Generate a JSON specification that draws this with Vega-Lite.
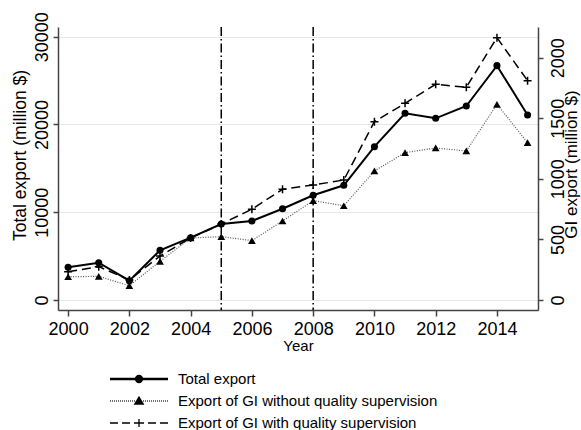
{
  "$schema": "https://vega.github.io/schema/vega-lite/v6.json",
  "width": 480,
  "height": 283,
  "autosize": {"type": "none"},
  "padding": {"left": 58, "top": 27, "right": 43, "bottom": 120},
  "background": "white",
  "config": {
    "view": {"stroke": null},
    "font": "Liberation Sans",
    "axis": {
      "domainColor": "#444444",
      "tickColor": "#444444",
      "domainWidth": 1.5,
      "tickWidth": 1.5,
      "labelColor": "black",
      "titleColor": "black",
      "titleFontWeight": "normal",
      "labelFlush": false,
      "labelFont": "Liberation Sans",
      "titleFont": "Liberation Sans"
    }
  },
  "datasets": {
    "exports": [
      {"Year": 2000, "Total": 3725, "GI_without": 192, "GI_with": 234},
      {"Year": 2001, "Total": 4250, "GI_without": 195, "GI_with": 275},
      {"Year": 2002, "Total": 2200, "GI_without": 118, "GI_with": 165},
      {"Year": 2003, "Total": 5660, "GI_without": 319, "GI_with": 363},
      {"Year": 2004, "Total": 7100, "GI_without": 512, "GI_with": 512},
      {"Year": 2005, "Total": 8660, "GI_without": 523, "GI_with": 627},
      {"Year": 2006, "Total": 9000, "GI_without": 490, "GI_with": 749},
      {"Year": 2007, "Total": 10400, "GI_without": 652, "GI_with": 914},
      {"Year": 2008, "Total": 11930, "GI_without": 820, "GI_with": 949},
      {"Year": 2009, "Total": 13070, "GI_without": 778, "GI_with": 990},
      {"Year": 2010, "Total": 17470, "GI_without": 1065, "GI_with": 1472},
      {"Year": 2011, "Total": 21270, "GI_without": 1216, "GI_with": 1623},
      {"Year": 2012, "Total": 20700, "GI_without": 1255, "GI_with": 1780},
      {"Year": 2013, "Total": 22100, "GI_without": 1230, "GI_with": 1756},
      {"Year": 2014, "Total": 26700, "GI_without": 1615, "GI_with": 2165},
      {"Year": 2015, "Total": 21070, "GI_without": 1298, "GI_with": 1810}
    ],
    "policy": [{"Year": 2005}, {"Year": 2008}],
    "series": [
      {"Series": "Total export"},
      {"Series": "Export of GI without quality supervision"},
      {"Series": "Export of GI with quality supervision"}
    ]
  },
  "layer": [
    {
      "data": {"name": "policy"},
      "mark": {"type": "rule", "color": "black", "strokeWidth": 1.5, "strokeDash": [9, 3, 1.5, 3]},
      "encoding": {
        "x": {
          "field": "Year",
          "type": "quantitative",
          "scale": {"domain": [1999.67, 2015.34], "nice": false, "zero": false},
          "axis": {
            "title": "Year",
            "values": [2000, 2002, 2004, 2006, 2008, 2010, 2012, 2014],
            "format": "d",
            "labelFontSize": 18,
            "titleFontSize": 15,
            "labelPadding": 4,
            "titlePadding": 0,
            "tickSize": 6,
            "grid": false
          }
        }
      }
    },
    {
      "data": {"name": "exports"},
      "layer": [
        {
          "mark": {"type": "line", "color": "black", "strokeWidth": 2},
          "encoding": {
            "x": {"field": "Year", "type": "quantitative"},
            "y": {
              "field": "Total",
              "type": "quantitative",
              "scale": {"domain": [-1139, 31104], "nice": false, "zero": false},
              "axis": {
                "orient": "left",
                "title": "Total export (million $)",
                "values": [0, 10000, 20000, 30000],
                "format": "d",
                "labelAngle": -90,
                "labelAlign": "center",
                "labelBaseline": "alphabetic",
                "labelPadding": 6,
                "labelFontSize": 18,
                "titleFontSize": 17.5,
                "titlePadding": 4,
                "titleY": 128,
                "tickSize": 5,
                "grid": true,
                "gridColor": "#e6e6e6",
                "gridWidth": 1
              }
            }
          }
        },
        {
          "mark": {"type": "point", "shape": "circle", "filled": true, "size": 50, "color": "black", "opacity": 1},
          "encoding": {
            "x": {"field": "Year", "type": "quantitative"},
            "y": {"field": "Total", "type": "quantitative"}
          }
        }
      ]
    },
    {
      "data": {"name": "exports"},
      "layer": [
        {
          "mark": {"type": "line", "color": "#555555", "strokeWidth": 1.2, "strokeDash": [1, 1.5]},
          "encoding": {
            "x": {"field": "Year", "type": "quantitative"},
            "y": {
              "field": "GI_without",
              "type": "quantitative",
              "scale": {"domain": [-82.5, 2253], "nice": false, "zero": false},
              "axis": {
                "orient": "right",
                "title": "GI export (million $)",
                "values": [0, 500, 1000, 1500, 2000],
                "format": "d",
                "labelAngle": -90,
                "labelAlign": "center",
                "labelBaseline": "top",
                "labelPadding": 6,
                "labelFontSize": 18,
                "titleFontSize": 17,
                "titleAngle": 270,
                "titleBaseline": "top",
                "titlePadding": -4,
                "titleY": 137,
                "tickSize": 5,
                "grid": false
              }
            }
          }
        },
        {
          "mark": {"type": "line", "color": "black", "strokeWidth": 1.5, "strokeDash": [9, 5]},
          "encoding": {
            "x": {"field": "Year", "type": "quantitative"},
            "y": {"field": "GI_with", "type": "quantitative"}
          }
        },
        {
          "mark": {"type": "point", "shape": "triangle-up", "filled": true, "size": 60, "color": "black", "opacity": 1},
          "encoding": {
            "x": {"field": "Year", "type": "quantitative"},
            "y": {"field": "GI_without", "type": "quantitative"}
          }
        },
        {
          "mark": {"type": "point", "shape": "M-1,0H1M0,-1V1", "filled": false, "size": 64, "color": "black", "strokeWidth": 1.5, "opacity": 1},
          "encoding": {
            "x": {"field": "Year", "type": "quantitative"},
            "y": {"field": "GI_with", "type": "quantitative"}
          }
        }
      ]
    },
    {
      "data": {"name": "series"},
      "transform": [{"filter": "false"}],
      "mark": {"type": "point", "filled": false, "color": "black", "strokeWidth": 1.3, "opacity": 1},
      "encoding": {
        "shape": {
          "field": "Series",
          "type": "nominal",
          "scale": {
            "domain": ["Total export", "Export of GI without quality supervision", "Export of GI with quality supervision"],
            "range": [
              "M-5.8,-0.1H5.8M-5.8,0.1H5.8M0.7,0A0.7,0.7 0 1,1 -0.7,0A0.7,0.7 0 1,1 0.7,0M0.45,0A0.45,0.45 0 1,1 -0.45,0A0.45,0.45 0 1,1 0.45,0M0.2,0A0.2,0.2 0 1,1 -0.2,0A0.2,0.2 0 1,1 0.2,0",
              "M-5.8,0h0.15M-5.4,0h0.15M-5,0h0.15M-4.6,0h0.15M-4.2,0h0.15M-3.8,0h0.15M-3.4,0h0.15M-3,0h0.15M-2.6,0h0.15M-2.2,0h0.15M-1.8,0h0.15M-1.4,0h0.15M-1,0h0.15M0.85,0h0.15M1.25,0h0.15M1.65,0h0.15M2.05,0h0.15M2.45,0h0.15M2.85,0h0.15M3.25,0h0.15M3.65,0h0.15M4.05,0h0.15M4.45,0h0.15M4.85,0h0.15M5.25,0h0.15M5.65,0h0.15M0,-0.8L0.85,0.6L-0.85,0.6ZM-0.62,0.35H0.62M-0.47,0.1H0.47M-0.32,-0.15H0.32M-0.18,-0.4H0.18",
              "M-5.8,0H-4.2M-3.4,0H-1.8M-1,0H1M1.8,0H3.4M4.2,0H5.8M0,-0.8V0.8"
            ]
          },
          "legend": {
            "orient": "none",
            "legendX": 73.5,
            "legendY": 344.5,
            "title": null,
            "direction": "vertical",
            "symbolSize": 100,
            "symbolStrokeWidth": 1.3,
            "symbolStrokeColor": "black",
            "symbolOpacity": 1,
            "labelFontSize": 15,
            "labelFont": "Liberation Sans",
            "labelColor": "black",
            "labelOffset": 31.5,
            "labelLimit": 400,
            "rowPadding": 6,
            "padding": 0
          }
        }
      }
    }
  ],
  "resolve": {"scale": {"y": "independent", "shape": "independent"}}
}
